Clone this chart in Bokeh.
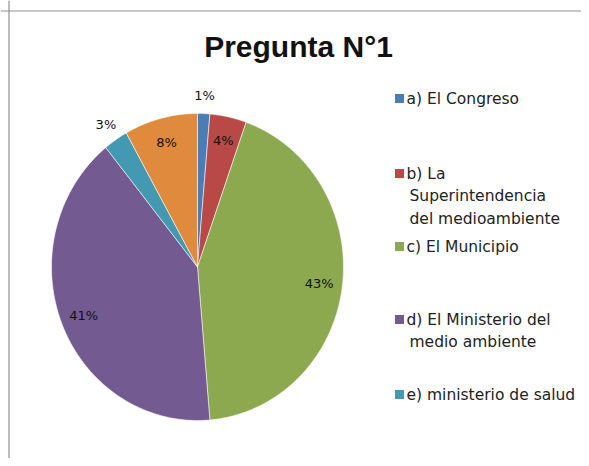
import numpy as np
from bokeh.plotting import figure
from bokeh.models import Range1d, Span, Label, ColumnDataSource
from bokeh.core.properties import value
from bokeh.embed import file_html
from bokeh.resources import INLINE

# ---- data ----
title_text = "Pregunta N°1"
categories = [
    "a) El Congreso",
    "b) La\nSuperintendencia\ndel medioambiente",
    "c) El Municipio",
    "d) El Ministerio del\nmedio ambiente",
    "e) ministerio de salud",
    "f)",
]
counts = [1, 3, 32, 30, 2, 6]
colors = ["#4A7DB8", "#B84946", "#8DA94F", "#735A91", "#4399B1", "#E08A3E"]
legend_shown = 5  # the sixth legend entry is cut off in the reference

# ---- layout constants ----
W, H = 581, 458
cx, cy, rx, ry = 197.0, 266.5, 146.0, 153.5

p = figure(width=W, height=H, output_backend="svg", toolbar_location=None,
           x_range=Range1d(0, W), y_range=Range1d(H, 0),
           min_border=0, outline_line_color=None)
p.axis.visible = False
p.grid.visible = False
p.background_fill_color = "white"
p.border_fill_color = "white"

# chart-area border (left and top visible)
p.add_layout(Span(location=8.5, dimension="height", line_color="#8f8f8f", line_width=1.2))
p.add_layout(Span(location=10.5, dimension="width", line_color="#8f8f8f", line_width=1.2))

# ---- pie slices (clockwise from 12 o'clock) ----
vals = np.array(counts, dtype=float)
frac = vals / vals.sum()
ends = np.cumsum(frac) * 2 * np.pi
starts = ends - frac * 2 * np.pi
xs, ys = [], []
for a0, a1 in zip(starts, ends):
    t = np.linspace(a0, a1, 120)
    xs.append(np.concatenate([[cx], cx + rx * np.sin(t)]).tolist())
    ys.append(np.concatenate([[cy], cy - ry * np.cos(t)]).tolist())
p.patches(xs, ys, fill_color=colors, line_color="white", line_width=0.8, line_alpha=0.7)

# ---- percentage labels ----
pct = np.round(frac * 100).astype(int)
mid = (starts + ends) / 2
rf = np.where(frac * 100 < 3.5, 1.12, 0.84)
lx = cx + rf * rx * np.sin(mid)
ly = cy - rf * ry * np.cos(mid)
src = ColumnDataSource(dict(x=lx, y=ly, t=[f"{v}%" for v in pct]))
p.text(x="x", y="y", text="t", source=src, text_font=value("DejaVu Sans"),
       text_font_size="13px", text_color="#111111", text_align="center",
       text_baseline="middle")

# ---- legend ----
row_y = [98, 173, 246, 319, 394]
line_h = 22.5
sq_x, tx = 399, 406
p.scatter([sq_x] * legend_shown, row_y, marker="square", size=9,
          fill_color=colors[:legend_shown], line_color=None)
lt_x, lt_y, lt_t = [], [], []
for lab, y0 in zip(categories[:legend_shown], row_y):
    for i, line in enumerate(lab.split("\n")):
        lt_x.append(tx if i == 0 else tx + 3)
        lt_y.append(y0 + i * line_h)
        lt_t.append(line)
p.text(x=lt_x, y=lt_y, text=lt_t, text_font=value("DejaVu Sans"),
       text_font_size="15.5px", text_color="#222222", text_align="left",
       text_baseline="middle")

# ---- title ----
p.add_layout(Label(x=298, y=46, text=title_text, text_font="Liberation Sans",
                   text_font_style="bold", text_font_size="30px", text_color="#111111",
                   text_align="center", text_baseline="middle"))

open("out.html", "w").write(file_html(p, INLINE))
